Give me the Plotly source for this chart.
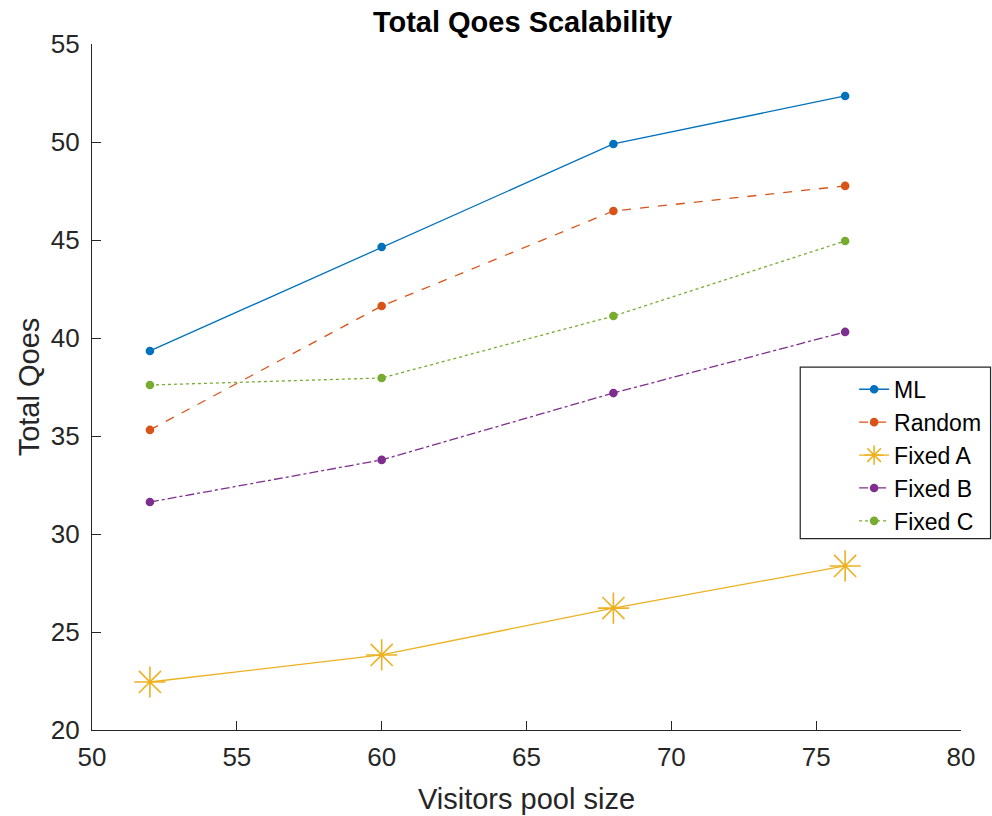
import plotly.graph_objects as go

x_vals = [52, 60, 68, 76]
ml = [39.34, 44.64, 49.90, 52.35]
random_ = [35.31, 41.63, 46.48, 47.76]
fixed_a = [22.45, 23.83, 26.22, 28.37]
fixed_b = [31.63, 33.78, 37.19, 40.31]
fixed_c = [37.60, 37.96, 41.12, 44.95]

series = [
    ("ML", ml, "#0072BD", "solid", "circle", 7),
    ("Random", random_, "#D95319", "dash", "circle", 7),
    ("Fixed A", fixed_a, "#EDB120", "solid", "asterisk-open", 26),
    ("Fixed B", fixed_b, "#7E2F8E", "dashdot", "circle", 7),
    ("Fixed C", fixed_c, "#77AC30", "dot", "circle", 7),
]

FONT = "Liberation Sans, Arial, Helvetica"

fig = go.Figure()
for name, ys, color, dash, sym, size in series:
    fig.add_trace(go.Scatter(
        x=x_vals, y=ys, name=name, mode="lines+markers",
        line=dict(color=color, width=1.3, dash=dash),
        marker=dict(symbol=sym, size=size, color=color,
                    line=dict(color=color, width=1.6)),
    ))

axis_common = dict(
    showline=True, linecolor="#262626", linewidth=1.2,
    ticks="inside", ticklen=9, tickcolor="#262626", tickwidth=1.2,
    showgrid=False, zeroline=False, mirror=False, automargin=False,
    tickfont=dict(family=FONT, size=26, color="#262626"),
)

fig.update_layout(
    width=992, height=816,
    plot_bgcolor="white", paper_bgcolor="white",
    margin=dict(l=92, r=31, t=44, b=86, autoexpand=False),
    title=dict(text="<b>Total Qoes Scalability</b>", x=0.5267, xanchor="center",
               y=0.973, yanchor="middle",
               font=dict(family=FONT, size=29, color="black")),
    xaxis=dict(range=[50, 80], tickvals=[50, 55, 60, 65, 70, 75, 80],
               ticklabelstandoff=4,
               title=dict(text="Visitors pool size", standoff=17,
                          font=dict(family=FONT, size=29, color="#262626")),
               **axis_common),
    yaxis=dict(range=[20, 55], tickvals=[20, 25, 30, 35, 40, 45, 50, 55],
               ticklabelstandoff=6,
               title=dict(text="Total Qoes", standoff=2,
                          font=dict(family=FONT, size=29, color="#262626")),
               **axis_common),
    legend=dict(x=0.877, y=0.528, xanchor="left", yanchor="top",
                bgcolor="rgba(0,0,0,0)", borderwidth=0,
                font=dict(family=FONT, size=23, color="black"),
                tracegroupgap=0),
    showlegend=True,
    shapes=[dict(type="rect", xref="paper", yref="paper",
                 x0=0.815, x1=1.034, y0=0.279, y1=0.529,
                 line=dict(color="#262626", width=1.2),
                 fillcolor="white", layer="below")],
)

fig.write_html("out.html")
